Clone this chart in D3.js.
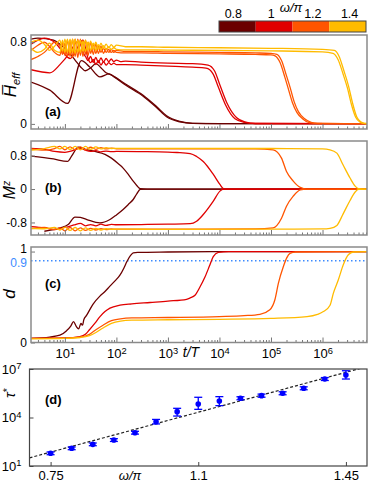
<!DOCTYPE html>
<html>
<head>
<meta charset="utf-8">
<script src="https://cdn.jsdelivr.net/npm/d3@7"></script>
<style>
  body { margin: 0; background: #fff; }
  text { font-family: "Liberation Sans", Arial, sans-serif; }
</style>
</head>
<body>
<div class="canvas"></div>
<script>
// ---- DATA --- //
const omegaLabels = ['0.8', '1', '1.2', '1.4'];
const omegaColors = ['#6b0000', '#e00000', '#ff5500', '#ffbb00'];

// panel (a): time-averaged energy, [t/T, value]
const heffDarkA = [[2.2,0.41],[5.1,0.33],[11.3,0.20],[21,0.62],[30,0.56],[48,0.46],[72,0.49],[90,0.46],[150,0.38],[330,0.27],[600,0.16],[940,0.07],[1700,0.02],[3000,0.005],[1e4,0.003],[7.3e6,0.002]];
const heffDarkB = [[2.2,0.83],[3,0.84],[6,0.82],[8,0.78],[12,0.70],[16,0.62],[20,0.56],[25,0.52],[32,0.55],[40,0.59],[50,0.55],[63,0.50],[80,0.48],[100,0.45],[150,0.39],[330,0.28],[600,0.17],[940,0.08],[1700,0.025],[3000,0.006],[1e4,0.002],[7.3e6,0.002]];
const heffRedA = [[2.2,0.53],[5.1,0.50],[8,0.58],[12.6,0.70],[17,0.80],[20,0.78],[22.4,0.70],[25.1,0.66],[28.2,0.62],[31.6,0.66],[35.5,0.60],[39.8,0.65],[44.7,0.60],[50.1,0.645],[56.2,0.605],[63.1,0.64],[70.8,0.61],[79.4,0.635],[89.1,0.61],[100,0.625],[120,0.61],[150,0.615],[300,0.605],[1000,0.595],[3000,0.59],[6000,0.575],[8000,0.52],[10200,0.38],[13800,0.21],[21600,0.06],[31000,0.02],[50000,0.004],[7.3e6,0.003]];
const heffRedB = [[2.2,0.78],[3,0.82],[4,0.84],[6.3,0.80],[8,0.74],[10,0.68],[12.6,0.64],[15.8,0.70],[20,0.80],[22.4,0.82],[25.1,0.74],[28.2,0.64],[31.6,0.60],[35.5,0.63],[39.8,0.58],[44.7,0.62],[50.1,0.575],[56.2,0.61],[63.1,0.575],[70.8,0.60],[79.4,0.58],[89.1,0.595],[100,0.58],[150,0.58],[300,0.575],[1000,0.565],[3000,0.555],[5500,0.545],[7500,0.49],[9500,0.36],[13000,0.19],[20000,0.05],[30000,0.015],[50000,0.004],[7.3e6,0.003]];
const heffOrangeA = [[2.2,0.63],[3,0.66],[4,0.70],[5,0.75],[6.3,0.80],[8,0.76],[9,0.68],[10,0.79],[11.2,0.66],[12.6,0.82],[14.1,0.65],[15.8,0.83],[17.8,0.65],[20,0.83],[22.4,0.66],[25.1,0.82],[28.2,0.67],[31.6,0.80],[35.5,0.68],[39.8,0.78],[44.7,0.69],[50.1,0.76],[56.2,0.69],[63.1,0.74],[70.8,0.70],[79.4,0.73],[89.1,0.70],[100,0.72],[150,0.71],[300,0.71],[1000,0.705],[1e4,0.70],[5e4,0.695],[1e5,0.69],[1.3e5,0.68],[1.6e5,0.62],[2e5,0.47],[2.34e5,0.36],[2.8e5,0.22],[3.4e5,0.12],[4.5e5,0.05],[6e5,0.015],[8e5,0.005],[7.3e6,0.003]];
const heffOrangeB = [[2.2,0.72],[3,0.77],[4,0.80],[5,0.76],[6.3,0.70],[8,0.67],[9,0.80],[10,0.67],[11.2,0.82],[12.6,0.66],[14.1,0.83],[15.8,0.66],[17.8,0.83],[20,0.67],[22.4,0.82],[25.1,0.68],[28.2,0.80],[31.6,0.69],[35.5,0.78],[39.8,0.69],[44.7,0.76],[50.1,0.70],[56.2,0.74],[63.1,0.70],[70.8,0.73],[79.4,0.70],[89.1,0.72],[100,0.70],[150,0.695],[300,0.695],[1000,0.69],[1e4,0.685],[5e4,0.68],[1e5,0.675],[1.2e5,0.665],[1.5e5,0.60],[1.85e5,0.46],[2.15e5,0.35],[2.6e5,0.21],[3.2e5,0.11],[4.2e5,0.045],[5.5e5,0.012],[8e5,0.004],[7.3e6,0.003]];
const heffYellowA = [[2.2,0.80],[3,0.82],[4,0.78],[5,0.72],[6.3,0.76],[8,0.82],[9,0.71],[10,0.83],[11.2,0.70],[12.6,0.83],[14.1,0.70],[15.8,0.83],[17.8,0.70],[20,0.82],[22.4,0.71],[25.1,0.82],[28.2,0.72],[31.6,0.81],[35.5,0.73],[39.8,0.80],[44.7,0.73],[50.1,0.79],[56.2,0.74],[63.1,0.78],[70.8,0.745],[79.4,0.775],[89.1,0.75],[100,0.77],[150,0.755],[300,0.755],[1000,0.75],[1e4,0.745],[1e5,0.74],[1e6,0.73],[1.7e6,0.72],[2.1e6,0.66],[2.6e6,0.52],[3.2e6,0.37],[3.8e6,0.21],[4.6e6,0.07],[5.5e6,0.02],[6.5e6,0.006],[7.3e6,0.004]];
const heffYellowB = [[2.2,0.74],[3,0.70],[4,0.73],[5,0.79],[6.3,0.72],[8,0.70],[9,0.82],[10,0.70],[11.2,0.83],[12.6,0.69],[14.1,0.83],[15.8,0.69],[17.8,0.82],[20,0.70],[22.4,0.81],[25.1,0.71],[28.2,0.80],[31.6,0.72],[35.5,0.79],[39.8,0.72],[44.7,0.775],[50.1,0.725],[56.2,0.765],[63.1,0.73],[70.8,0.755],[79.4,0.73],[89.1,0.745],[100,0.73],[150,0.725],[300,0.725],[1000,0.722],[1e4,0.72],[1e5,0.715],[1e6,0.705],[1.6e6,0.69],[2e6,0.63],[2.5e6,0.49],[3.05e6,0.35],[3.6e6,0.2],[4.4e6,0.065],[5.3e6,0.018],[6.3e6,0.005],[7.3e6,0.003]];

// panel (b): magnetisation of the two sublattices
const mzDarkUp = [[2.2,0.79],[6,0.72],[11.2,0.66],[14,0.82],[18,1.0],[25,0.95],[38,0.90],[60,0.83],[80,0.74],[110,0.60],[135,0.50],[170,0.35],[212,0.19],[250,0.08],[290,0.01],[400,0],[7.3e6,0]];
const mzDarkDown = [[4,-1.01],[8,-0.93],[11.6,-0.85],[15.7,-0.67],[20,-0.68],[26.7,-0.73],[47.8,-0.81],[75,-0.73],[100,-0.62],[135,-0.49],[170,-0.37],[212,-0.25],[250,-0.11],[290,-0.01],[400,0],[7.3e6,0]];
const mzRedUp = [[2.2,0.97],[4,0.95],[6.3,0.90],[10,0.88],[15,0.93],[20,0.98],[25,0.93],[31.6,0.90],[40,0.92],[50,0.89],[63,0.91],[80,0.895],[100,0.90],[300,0.895],[1000,0.885],[1500,0.875],[2700,0.85],[3600,0.78],[4850,0.66],[7600,0.35],[10200,0.11],[11900,0.01],[13000,0],[7.3e6,0]];
const mzRedDown = [[2.2,-0.90],[4,-0.93],[6.3,-0.97],[10,-0.92],[15,-0.86],[20,-0.82],[25,-0.88],[31.6,-0.85],[40,-0.88],[50,-0.84],[63,-0.87],[80,-0.845],[100,-0.855],[300,-0.85],[1000,-0.84],[2700,-0.83],[3600,-0.77],[4850,-0.61],[7600,-0.29],[10200,-0.05],[11900,0],[7.3e6,0]];
const mzOrangeUp = [[2.2,0.96],[4,0.93],[6.3,0.97],[8,1.02],[10,0.94],[12.6,1.01],[15.8,0.94],[20,1.01],[25.1,0.94],[31.6,1.0],[39.8,0.95],[50.1,0.99],[63.1,0.96],[79.4,0.98],[100,0.965],[1000,0.965],[5e4,0.96],[1.1e5,0.94],[1.6e5,0.74],[2e5,0.42],[2.7e5,0.19],[3.7e5,0.04],[5e5,0],[7.3e6,0]];
const mzOrangeDown = [[2.2,-0.95],[4,-0.92],[6.3,-0.97],[8,-0.93],[10,-1.0],[12.6,-0.92],[15.8,-1.0],[20,-0.93],[25.1,-0.99],[31.6,-0.94],[39.8,-0.98],[50.1,-0.95],[63.1,-0.97],[79.4,-0.955],[100,-0.96],[1000,-0.96],[5e4,-0.955],[1.1e5,-0.93],[1.6e5,-0.70],[2e5,-0.41],[2.7e5,-0.17],[3.7e5,-0.02],[5e5,0],[7.3e6,0]];
const mzYellowUp = [[2.2,0.93],[4,0.97],[6.3,1.02],[8,0.96],[10,1.02],[12.6,0.95],[15.8,1.02],[20,0.94],[25.1,1.02],[31.6,0.95],[39.8,1.01],[50.1,0.96],[63.1,0.99],[79.4,0.97],[100,0.975],[1000,0.975],[1e5,0.97],[1e6,0.96],[1.4e6,0.94],[1.9e6,0.86],[2.5e6,0.58],[3.4e6,0.27],[4.3e6,0.07],[5e6,0.01],[7.3e6,0]];
const mzYellowDown = [[2.2,-0.94],[4,-0.95],[6.3,-0.92],[8,-0.98],[10,-0.91],[12.6,-0.99],[15.8,-0.92],[20,-1.0],[25.1,-0.93],[31.6,-0.99],[39.8,-0.94],[50.1,-0.98],[63.1,-0.95],[79.4,-0.965],[100,-0.96],[1000,-0.965],[1e5,-0.96],[1e6,-0.955],[1.4e6,-0.94],[1.9e6,-0.87],[2.5e6,-0.60],[3.4e6,-0.28],[4.3e6,-0.07],[5e6,-0.01],[7.3e6,0]];

// panel (c): d
const dDark = [[2.2,0.045],[5.1,0.06],[8,0.08],[10.8,0.13],[13,0.18],[14.7,0.23],[16.5,0.18],[18.5,0.15],[20.5,0.21],[22,0.19],[23.3,0.25],[26.5,0.30],[35,0.42],[47.8,0.51],[60,0.56],[74.8,0.62],[95,0.68],[117,0.74],[140,0.82],[160,0.89],[190,0.96],[212,0.985],[260,0.99],[1000,0.995],[1e4,1.0],[7.3e6,1.0]];
const dRed = [[2.2,0.045],[10,0.05],[19.5,0.065],[25,0.09],[30,0.14],[38,0.21],[48,0.285],[60,0.34],[75,0.378],[117,0.41],[200,0.425],[450,0.44],[1000,0.455],[2300,0.475],[2700,0.49],[3350,0.52],[4180,0.61],[5230,0.72],[6540,0.855],[7580,0.945],[9500,0.99],[15000,1.0],[7.3e6,1.0]];
const dOrange = [[2.2,0.045],[10,0.05],[20,0.06],[30,0.09],[40,0.14],[55,0.19],[80,0.24],[120,0.26],[200,0.27],[1000,0.275],[1e4,0.285],[3e4,0.295],[6.1e4,0.31],[9.5e4,0.36],[1.19e5,0.47],[1.39e5,0.65],[1.74e5,0.835],[2.02e5,0.93],[2.34e5,0.98],[3e5,0.995],[7.3e6,1.0]];
const dYellow = [[2.2,0.04],[10,0.045],[20,0.055],[30,0.075],[40,0.11],[55,0.16],[80,0.21],[120,0.235],[200,0.245],[1000,0.25],[1e4,0.255],[1e5,0.265],[5e5,0.285],[8e5,0.31],[1.04e6,0.34],[1.4e6,0.41],[1.62e6,0.54],[2.03e6,0.69],[2.53e6,0.855],[3.17e6,0.965],[3.98e6,0.995],[7.3e6,1.0]];
const dThreshold = 0.9;

// panel (d): thermalisation time
const omegaD = [0.75, 0.80, 0.85, 0.90, 0.95, 1.00, 1.05, 1.10, 1.15, 1.20, 1.25, 1.30, 1.35, 1.40, 1.45];
const tau = [61, 124, 219, 405, 1150, 5500, 23000, 68000, 104000, 155000, 224000, 315000, 640000, 2.4e6, 4.3e6];
const tauLo = [50, 102, 180, 330, 940, 4000, 12300, 32000, 54000, 125000, 180000, 255000, 520000, 1.95e6, 2.4e6];
const tauHi = [74, 150, 265, 490, 1400, 7600, 37000, 178000, 195000, 192000, 280000, 390000, 790000, 2.95e6, 7.8e6];
const fitLine = [[0.70, 32], [1.50, 1.4e7]];


// ---- SETUP --- //
const svg = d3.select('.canvas').append('svg')
    .attr('width', 381)
    .attr('height', 485);

const frameColor = '#8a8a8a';
const x = d3.scaleLog().domain([2.2, 7.3e6]).range([31, 367]);
const allTicks = x.ticks();
const majorTicks = allTicks.filter(t => Math.abs(Math.log10(t) - Math.round(Math.log10(t))) < 1e-9);
const minorTicks = allTicks.filter(t => !majorTicks.includes(t));

const supLabel = (sel, base) => sel.each(function (d) {
    const t = d3.select(this).text(base);
    t.append('tspan').attr('dy', '-0.45em').attr('font-size', '0.72em').text(Math.round(Math.log10(d)));
});

const panels = [
    { top: 35, bottom: 129, domain: [-0.05, 0.87], ticks: [0, 0.8], name: '(a)', nameY: 116,
      curves: [[heffDarkA, 0], [heffDarkB, 0], [heffRedA, 1], [heffRedB, 1], [heffOrangeA, 2], [heffOrangeB, 2], [heffYellowA, 3], [heffYellowB, 3]] },
    { top: 141, bottom: 235, domain: [-1.1, 1.15], ticks: [-0.8, 0, 0.8], name: '(b)', nameY: 192,
      curves: [[mzDarkUp, 0], [mzDarkDown, 0], [mzRedUp, 1], [mzRedDown, 1], [mzOrangeUp, 2], [mzOrangeDown, 2], [mzYellowUp, 3], [mzYellowDown, 3]] },
    { top: 247, bottom: 342.5, domain: [0, 1.05], ticks: [0, 1], name: '(c)', nameY: 288,
      curves: [[dDark, 0], [dRed, 1], [dOrange, 2], [dYellow, 3]] }
];

panels.forEach((p, i) => {
    const y = d3.scaleLinear().domain(p.domain).range([p.bottom, p.top]);
    const g = svg.append('g');

    svg.append('clipPath').attr('id', 'clip' + i).append('rect')
        .attr('x', 31).attr('y', p.top).attr('width', 336).attr('height', p.bottom - p.top);

    const lines = g.append('g').attr('clip-path', `url(#clip${i})`);
    const line = d3.line().x(d => x(d[0])).y(d => y(d[1])).curve(d3.curveMonotoneX);

    if (i === 2) {
        lines.append('line')
            .attr('x1', 31).attr('x2', 367)
            .attr('y1', y(dThreshold)).attr('y2', y(dThreshold))
            .attr('stroke', '#3d8bff').attr('stroke-width', 1.5)
            .attr('stroke-dasharray', '1.5,2.5');
        g.append('text').attr('x', 27).attr('y', y(dThreshold)).attr('dy', '0.55em')
            .attr('text-anchor', 'end').attr('font-size', 12).attr('fill', '#3d8bff').text('0.9');
    }

    p.curves.forEach(([data, c]) => {
        lines.append('path').datum(data)
            .attr('d', line)
            .attr('fill', 'none')
            .attr('stroke', omegaColors[c])
            .attr('stroke-width', 1.3)
            .attr('stroke-linejoin', 'round');
    });

    // bottom ticks (inward)
    const minorAxis = g.append('g').attr('transform', `translate(0,${p.bottom})`)
        .call(d3.axisBottom(x).tickValues(minorTicks).tickSize(-2.5).tickFormat(''));
    const majorAxis = g.append('g').attr('transform', `translate(0,${p.bottom})`)
        .call(d3.axisBottom(x).tickValues(majorTicks).tickSize(-5).tickPadding(6)
            .tickFormat(i === 2 ? d => d : ''));
    if (i === 2) {
        majorAxis.selectAll('.tick text').attr('font-size', 13).attr('fill', '#000').call(supLabel, '10');
    }

    const yAxis = g.append('g').attr('transform', 'translate(31,0)')
        .call(d3.axisLeft(y).tickValues(p.ticks).tickSize(-4).tickPadding(4).tickFormat(d => String(d)));
    yAxis.selectAll('.tick text').attr('font-size', 12).attr('fill', '#000');
    if (i === 2) yAxis.selectAll('.tick text').filter(d => d === 1).attr('dy', '0.05em');

    [minorAxis, majorAxis, yAxis].forEach(a => {
        a.select('.domain').remove();
        a.selectAll('.tick line').attr('stroke', '#777');
    });

    g.append('rect')
        .attr('x', 31).attr('y', p.top).attr('width', 336).attr('height', p.bottom - p.top)
        .attr('fill', 'none').attr('stroke', frameColor).attr('stroke-width', 1.5);

    g.append('text').attr('x', 45).attr('y', p.nameY)
        .attr('font-size', 13).attr('font-weight', 'bold').text(p.name);
});

// ---- Y LABELS --- //
const serif = '"Liberation Serif", "Times New Roman", serif';
const heffLabel = svg.append('text').attr('transform', 'translate(16,85) rotate(-90)')
    .attr('text-anchor', 'middle').attr('font-family', serif).attr('font-style', 'italic').attr('font-size', 17);
heffLabel.append('tspan').text('H\u0305');
heffLabel.append('tspan').attr('font-size', 11).attr('dy', '0.35em').text('eff');

const mzLabel = svg.append('text').attr('transform', 'translate(15,190) rotate(-90)')
    .attr('text-anchor', 'middle').attr('font-family', serif).attr('font-style', 'italic').attr('font-size', 16);
mzLabel.append('tspan').text('M');
mzLabel.append('tspan').attr('font-size', 10).attr('dy', '-0.5em').text('z');

svg.append('text').attr('transform', 'translate(15,294) rotate(-90)')
    .attr('text-anchor', 'middle').attr('font-family', serif).attr('font-style', 'italic').attr('font-size', 17)
    .text('d');

svg.append('text').attr('x', 191).attr('y', 357).attr('text-anchor', 'middle')
    .attr('font-family', serif).attr('font-style', 'italic').attr('font-size', 14).text('t/T');

// ---- COLORBAR --- //
const band = d3.scaleBand().domain(omegaLabels).range([219, 366]).padding(0);
const cbar = svg.append('g');
cbar.selectAll('rect').data(omegaLabels).join('rect')
    .attr('x', d => band(d)).attr('y', 21)
    .attr('width', band.bandwidth()).attr('height', 11)
    .attr('fill', (d, i) => omegaColors[i]);
cbar.append('rect').attr('x', 219).attr('y', 21).attr('width', 147).attr('height', 11)
    .attr('fill', 'none').attr('stroke', '#444').attr('stroke-width', 1);
cbar.selectAll('text.cb').data(omegaLabels).join('text').attr('class', 'cb')
    .attr('x', (d, i) => band(d) + band.bandwidth() / 2 + [-4, -3, 2, 2][i]).attr('y', 18)
    .attr('text-anchor', 'middle').attr('font-size', 12.5).text(d => d);
svg.append('text').attr('x', 291).attr('y', 12).attr('text-anchor', 'middle')
    .attr('font-family', serif).attr('font-style', 'italic').attr('font-size', 13).text('ω/π');

// ---- PANEL (d) --- //
const xd = d3.scaleLinear().domain([0.70, 1.50]).range([29.5, 367]);
const yd = d3.scaleLog().domain([10, 1e7]).range([466, 369]);
const gd = svg.append('g');

svg.append('clipPath').attr('id', 'clipd').append('rect')
    .attr('x', 29.5).attr('y', 369).attr('width', 337.5).attr('height', 97);

gd.append('path').datum(fitLine)
    .attr('clip-path', 'url(#clipd)')
    .attr('d', d3.line().x(d => xd(d[0])).y(d => yd(d[1])))
    .attr('fill', 'none').attr('stroke', '#222').attr('stroke-width', 1.2)
    .attr('stroke-dasharray', '3,2');

const pts = gd.selectAll('g.pt').data(omegaD).join('g').attr('class', 'pt');
pts.append('line')
    .attr('x1', d => xd(d)).attr('x2', d => xd(d))
    .attr('y1', (d, i) => yd(tauLo[i])).attr('y2', (d, i) => yd(tauHi[i]))
    .attr('stroke', '#0000ff').attr('stroke-width', 1.3);
pts.append('line')
    .attr('x1', d => xd(d) - 4).attr('x2', d => xd(d) + 4)
    .attr('y1', (d, i) => yd(tauLo[i])).attr('y2', (d, i) => yd(tauLo[i]))
    .attr('stroke', '#0000ff').attr('stroke-width', 1.3);
pts.append('line')
    .attr('x1', d => xd(d) - 4).attr('x2', d => xd(d) + 4)
    .attr('y1', (d, i) => yd(tauHi[i])).attr('y2', (d, i) => yd(tauHi[i]))
    .attr('stroke', '#0000ff').attr('stroke-width', 1.3);
pts.append('circle')
    .attr('cx', d => xd(d)).attr('cy', (d, i) => yd(tau[i])).attr('r', 2.8)
    .attr('fill', '#0000ff');

const xdAxis = gd.append('g').attr('transform', 'translate(0,466)')
    .call(d3.axisBottom(xd).tickValues([0.75, 1.1, 1.45]).tickSize(-4).tickPadding(5).tickFormat(d => String(d)));
xdAxis.selectAll('.tick text').attr('font-size', 13).attr('fill', '#000');

const ydAxis = gd.append('g').attr('transform', 'translate(29.5,0)')
    .call(d3.axisLeft(yd).tickValues([10, 1e4, 1e7]).tickSize(-4).tickPadding(8));
ydAxis.selectAll('.tick text').attr('font-size', 13).attr('fill', '#000')
    .attr('font-family', serif).call(supLabel, '10');

[xdAxis, ydAxis].forEach(a => {
    a.select('.domain').remove();
    a.selectAll('.tick line').attr('stroke', '#444');
});

gd.append('rect').attr('x', 29.5).attr('y', 369).attr('width', 337.5).attr('height', 97)
    .attr('fill', 'none').attr('stroke', '#444').attr('stroke-width', 1.2);

gd.append('text').attr('x', 45).attr('y', 404)
    .attr('font-size', 13).attr('font-weight', 'bold').text('(d)');

const tauLabel = svg.append('text').attr('transform', 'translate(15,393) rotate(-90)')
    .attr('text-anchor', 'middle').attr('font-family', serif).attr('font-style', 'italic').attr('font-size', 15);
tauLabel.append('tspan').text('τ');
tauLabel.append('tspan').attr('font-size', 11).attr('dy', '-0.4em').attr('font-style', 'normal').text('*');

svg.append('text').attr('x', 130).attr('y', 480).attr('text-anchor', 'middle')
    .attr('font-family', serif).attr('font-style', 'italic').attr('font-size', 13).text('ω/π');
</script>
</body>
</html>
